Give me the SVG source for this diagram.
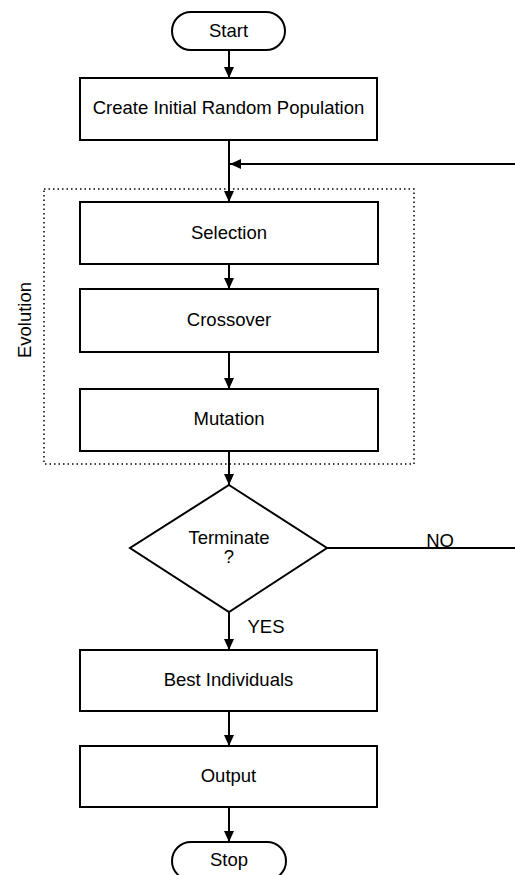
<svg xmlns="http://www.w3.org/2000/svg" width="515" height="875" viewBox="0 0 515 875">
<defs>
<style>
.box{fill:#fff;stroke:#000;stroke-width:2}
.t{font-family:"Liberation Sans",Arial,sans-serif;font-size:18.5px;fill:#000;text-anchor:middle}
.c{fill:none;stroke:#000;stroke-width:2}
.dot{fill:none;stroke:#000;stroke-width:1.5;stroke-dasharray:1.5 3}
</style>
<marker id="ah" markerUnits="userSpaceOnUse" markerWidth="11" markerHeight="10" refX="11" refY="5" orient="auto">
<path d="M0,0 L11,5 L0,10 z" fill="#000"/>
</marker>
</defs>
<rect width="515" height="875" fill="#fff"/>
<g id="evolution-group">
<rect class="dot" x="44" y="189" width="370" height="275"/>
<text class="t" transform="translate(31,320) rotate(-90)">Evolution</text>
</g>
<g id="connectors">
<line class="c" x1="229" y1="50" x2="229" y2="78" marker-end="url(#ah)"/>
<line class="c" x1="229" y1="140" x2="229" y2="202" marker-end="url(#ah)"/>
<line class="c" x1="515" y1="164" x2="230" y2="164" marker-end="url(#ah)"/>
<line class="c" x1="229" y1="264" x2="229" y2="289" marker-end="url(#ah)"/>
<line class="c" x1="229" y1="352" x2="229" y2="389" marker-end="url(#ah)"/>
<line class="c" x1="229" y1="451" x2="229" y2="485" marker-end="url(#ah)"/>
<line class="c" x1="327" y1="548" x2="515" y2="548"/>
<text class="t" x="440" y="547">NO</text>
<line class="c" x1="229" y1="612" x2="229" y2="650" marker-end="url(#ah)"/>
<text class="t" x="266" y="633">YES</text>
<line class="c" x1="229" y1="711" x2="229" y2="746" marker-end="url(#ah)"/>
<line class="c" x1="229" y1="807" x2="229" y2="842" marker-end="url(#ah)"/>
</g>
<g id="start">
<rect class="box" x="172" y="12" width="113" height="38" rx="19" ry="19"/>
<text class="t" x="228.5" y="37">Start</text>
</g>
<g id="create">
<rect class="box" x="80" y="78" width="297" height="62"/>
<text class="t" x="228.5" y="114">Create Initial Random Population</text>
</g>
<g id="selection">
<rect class="box" x="80" y="202" width="298" height="62"/>
<text class="t" x="229" y="239">Selection</text>
</g>
<g id="crossover">
<rect class="box" x="80" y="289" width="298" height="63"/>
<text class="t" x="229" y="326">Crossover</text>
</g>
<g id="mutation">
<rect class="box" x="80" y="389" width="298" height="62"/>
<text class="t" x="229" y="425">Mutation</text>
</g>
<g id="terminate">
<polygon class="box" points="229,485 327,548 229,612 130,548"/>
<text class="t" x="229" y="544">Terminate</text>
<text class="t" x="229" y="563">?</text>
</g>
<g id="best">
<rect class="box" x="80" y="650" width="297" height="61"/>
<text class="t" x="228.5" y="686">Best Individuals</text>
</g>
<g id="output">
<rect class="box" x="80" y="746" width="297" height="61"/>
<text class="t" x="228.5" y="782">Output</text>
</g>
<g id="stop">
<rect class="box" x="172" y="842" width="114" height="38" rx="19" ry="19"/>
<text class="t" x="229" y="866">Stop</text>
</g>
</svg>
